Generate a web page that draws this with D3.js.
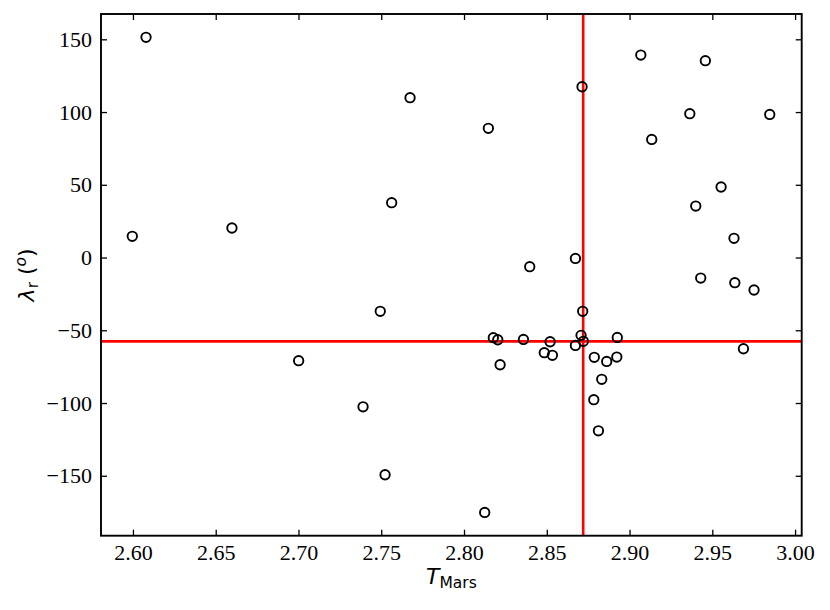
<!DOCTYPE html>
<html>
<head>
<meta charset="utf-8">
<script src="https://cdn.jsdelivr.net/npm/d3@7"></script>
<style>
html,body{margin:0;padding:0;background:#fff;}
svg{display:block;}
</style>
</head>
<body>
<svg id="chart" width="830" height="610"></svg>
<script>
// Data
const tMars = [2.6079, 2.7674, 2.5996, 2.6598, 2.7563,
  2.9068, 2.9458, 2.8713, 2.8147, 2.9364, 2.9847, 2.9134, 2.9553, 2.9400, 2.9631, 2.8673, 2.8397,
  2.7494, 2.7001, 2.7390, 2.7523,
  2.9430, 2.9636, 2.9752, 2.8717, 2.8177, 2.8204, 2.8359, 2.8520, 2.8707, 2.8721, 2.8673, 2.8926,
  2.8485, 2.8534, 2.9688, 2.8218, 2.8787, 2.8862, 2.8923, 2.8832, 2.8784, 2.8812, 2.8125];
const lambdaR = [151.4, 109.9, 14.6, 20.3, 37.7,
  139.2, 135.3, 117.4, 88.8, 98.9, 98.4, 81.2, 48.5, 35.4, 13.2, -0.6, -6.3,
  -37.0, -70.9, -102.6, -149.3,
  -14.1, -17.3, -22.3, -37.0, -55.1, -56.5, -56.3, -57.9, -53.5, -57.6, -60.4, -54.9,
  -65.4, -67.2, -62.7, -73.7, -68.6, -71.4, -68.4, -83.7, -97.7, -119.1, -175.2];
const refT = 2.872;
const refLambda = -57.6;
const xTicks = [2.60, 2.65, 2.70, 2.75, 2.80, 2.85, 2.90, 2.95, 3.00];
const yTicks = [-150, -100, -50, 0, 50, 100, 150];
const xDomain = [2.5807, 3.004];
const yDomain = [-191.2, 167.4];

const svg = d3.select("#chart");
const L = 101, R = 801.7, T = 14, B = 535.7;
const x = d3.scaleLinear().domain(xDomain).range([L, R]);
const y = d3.scaleLinear().domain(yDomain).range([B, T]);

const tickFont = "'Liberation Serif', 'Times New Roman', serif";
const fmtY = d => (d < 0 ? "\u2212" + Math.abs(d) : String(d));

svg.append("defs").append("clipPath").attr("id", "clip")
  .append("rect").attr("x", L).attr("y", T).attr("width", R - L).attr("height", B - T);

const plot = svg.append("g").attr("clip-path", "url(#clip)");

// reference lines
plot.append("line").attr("x1", x(refT)).attr("x2", x(refT)).attr("y1", T).attr("y2", B)
  .attr("stroke", "#ff0000").attr("stroke-width", 2.6);
plot.append("line").attr("x1", L).attr("x2", R).attr("y1", y(refLambda)).attr("y2", y(refLambda))
  .attr("stroke", "#ff0000").attr("stroke-width", 2.6);

// points
const pts = tMars.map((t, i) => ({t, l: lambdaR[i]}));
plot.selectAll("circle.pt").data(pts).enter().append("circle")
  .attr("class", "pt")
  .attr("cx", d => x(d.t)).attr("cy", d => y(d.l)).attr("r", 4.7)
  .attr("fill", "none").attr("stroke", "#000").attr("stroke-width", 1.9);

// axes (ticks inward)
function styleAxis(g) {
  g.select(".domain").remove();
  g.selectAll(".tick line").attr("stroke", "#000").attr("stroke-width", 1.3);
  g.selectAll(".tick text").attr("font-family", tickFont).attr("font-size", 22).attr("fill", "#000");
}
const axB = svg.append("g").attr("transform", `translate(0,${B})`)
  .call(d3.axisBottom(x).tickValues(xTicks).tickSizeInner(-6).tickSizeOuter(0).tickPadding(9)
    .tickFormat(d3.format(".2f")));
styleAxis(axB);
const axT = svg.append("g").attr("transform", `translate(0,${T})`)
  .call(d3.axisTop(x).tickValues(xTicks).tickSizeInner(-6).tickSizeOuter(0).tickFormat(""));
styleAxis(axT);
const axL = svg.append("g").attr("transform", `translate(${L},0)`)
  .call(d3.axisLeft(y).tickValues(yTicks).tickSizeInner(-6).tickSizeOuter(0).tickPadding(9)
    .tickFormat(fmtY));
styleAxis(axL);
const axR = svg.append("g").attr("transform", `translate(${R},0)`)
  .call(d3.axisRight(y).tickValues(yTicks).tickSizeInner(-6).tickSizeOuter(0).tickFormat(""));
styleAxis(axR);

// frame
svg.append("rect").attr("x", L).attr("y", T).attr("width", R - L).attr("height", B - T)
  .attr("fill", "none").attr("stroke", "#000").attr("stroke-width", 1.9);

// x label
const labFont = "'DejaVu Sans', sans-serif";
const xl = svg.append("text").attr("x", (L + R) / 2).attr("y", 584)
  .attr("text-anchor", "middle").attr("font-family", labFont).attr("font-size", 22).attr("fill", "#000");
xl.append("tspan").attr("font-style", "italic").text("T");
xl.append("tspan").attr("font-size", 15.5).attr("dy", 4).text("Mars");

// y label
const yl = svg.append("text").attr("transform", `translate(34,${(T + B) / 2}) rotate(-90)`)
  .attr("text-anchor", "middle").attr("font-family", labFont).attr("font-size", 22).attr("fill", "#000");
yl.append("tspan").attr("font-style", "italic").text("\u03bb");
yl.append("tspan").attr("font-size", 15.5).attr("dy", 4).text("r");
yl.append("tspan").attr("dy", -4).text(" (");
yl.append("tspan").attr("font-style", "italic").attr("font-size", 15.5).attr("dy", -8).text("o");
yl.append("tspan").attr("dy", 8).text(")");
</script>
</body>
</html>
